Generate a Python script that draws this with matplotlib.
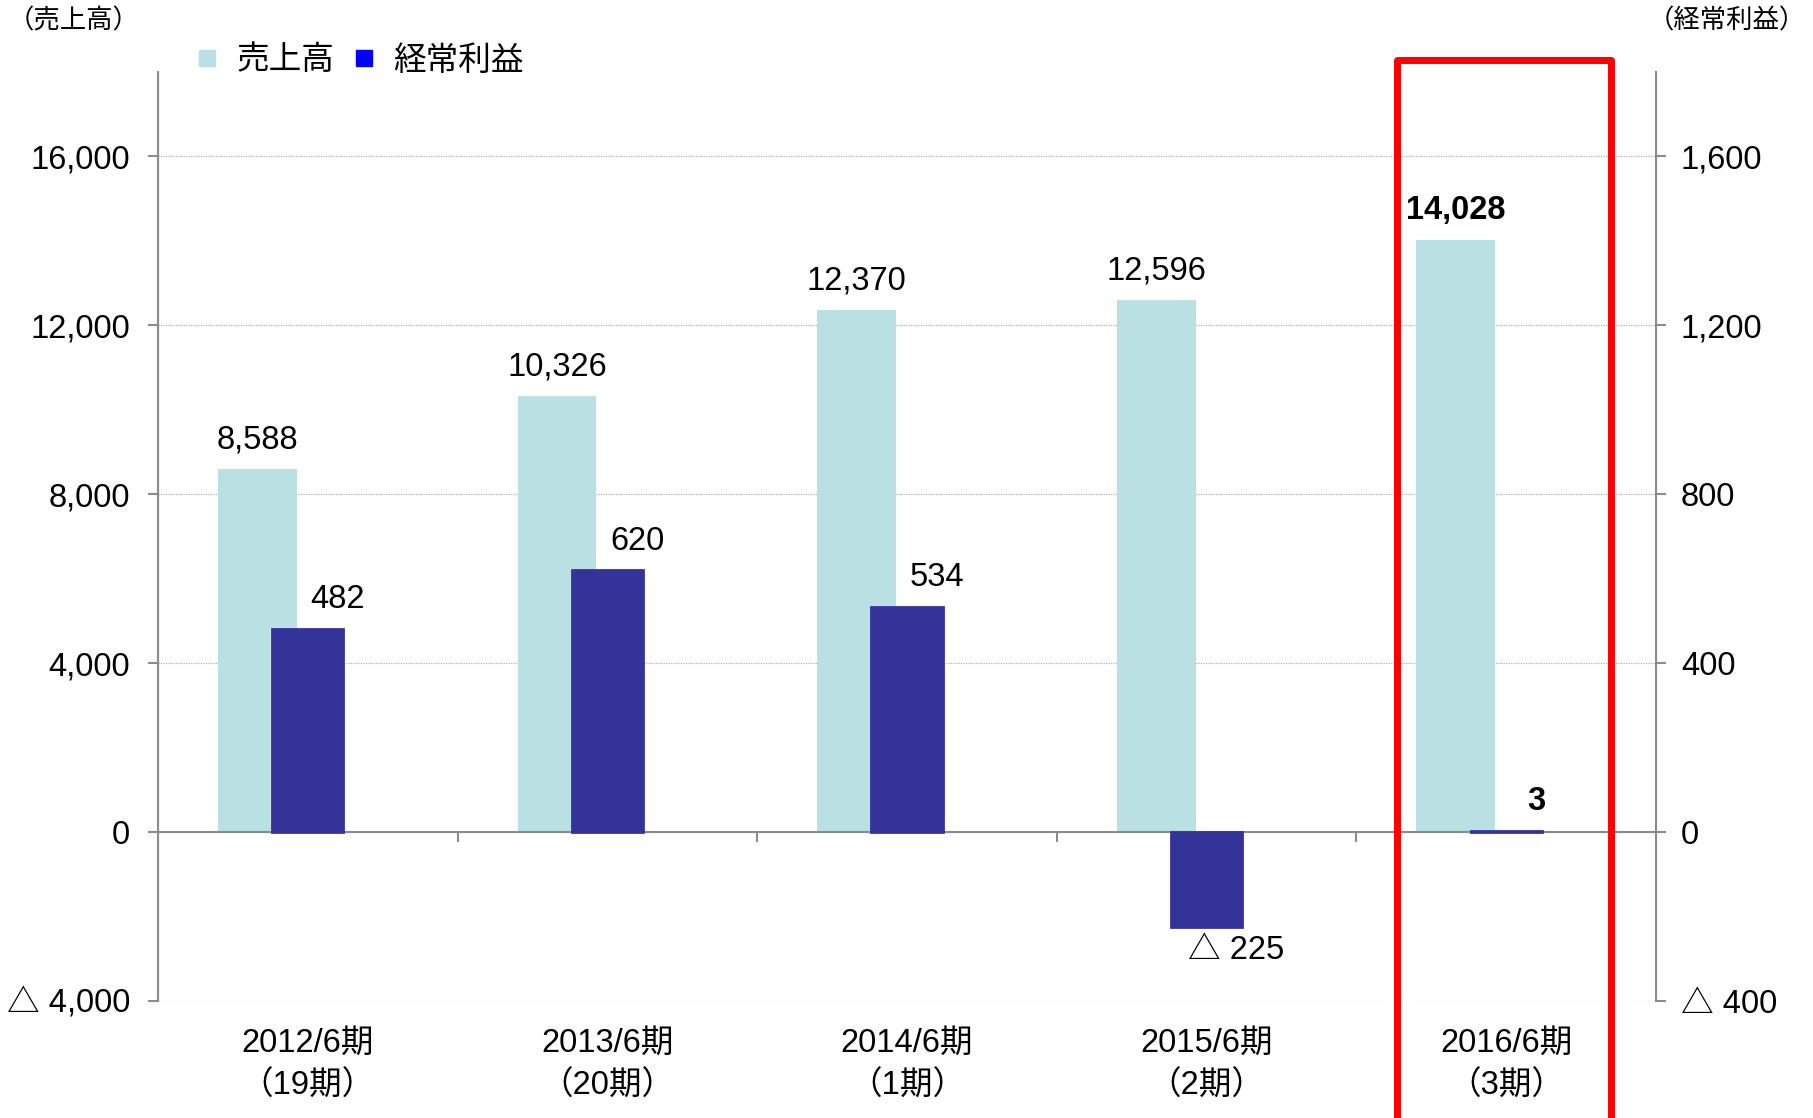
import numpy as np
import matplotlib
matplotlib.use("Agg")
import matplotlib.pyplot as plt
import matplotlib.transforms as mtransforms
from matplotlib.patches import Rectangle
from matplotlib.lines import Line2D

plt.rcParams['font.family'] = ['Liberation Sans', 'Noto Sans CJK JP']

# data
periods = ['2012/6期\n（19期）', '2013/6期\n（20期）', '2014/6期\n（1期）',
           '2015/6期\n（2期）', '2016/6期\n（3期）']
sales = [8588, 10326, 12370, 12596, 14028]
profit = [482, 620, 534, -225, 3]
sales_labels = ['8,588', '10,326', '12,370', '12,596', '14,028']
profit_labels = ['482', '620', '534', '△ 225', '3']
left_ticks = [-4000, 0, 4000, 8000, 12000, 16000]
left_ticklabels = ['△ 4,000', '0', '4,000', '8,000', '12,000', '16,000']
right_ticks = [-400, 0, 400, 800, 1200, 1600]
right_ticklabels = ['△ 400', '0', '400', '800', '1,200', '1,600']

c_sales = '#B9E0E2'
c_profit = '#333399'
gray = '#8C8C8C'
fs = 23.5

fig = plt.figure(figsize=(18.13, 11.18), dpi=100)
ax = fig.add_axes([0.0871, 0.1047, 0.8263, 0.8309])
ax2 = ax.twinx()

x = np.arange(len(periods))
ax.set_xlim(-0.5, 4.5)
ax.set_ylim(-4000, 18000)
ax2.set_ylim(-400, 1800)

ax.bar(x - 0.168, sales, width=0.263, color=c_sales, zorder=2)
ax2.bar(x, profit, width=0.238, color=c_profit, edgecolor=c_profit,
        linewidth=2, zorder=3)

# grid / spines
ax.set_yticks(left_ticks)
ax.set_yticklabels(left_ticklabels, fontsize=fs)
ax.yaxis.grid(True, linestyle=(0, (1, 1)), color='#B0B0B0', linewidth=0.9)
ax.set_axisbelow(True)
ax2.set_yticks(right_ticks)
ax2.set_yticklabels(right_ticklabels, fontsize=fs)

for a in (ax, ax2):
    a.spines['top'].set_visible(False)
    a.spines['left'].set_color(gray)
    a.spines['right'].set_color(gray)
    a.spines['bottom'].set_visible(False)
ax.spines['bottom'].set_visible(True)
ax.spines['bottom'].set_position(('data', 0))
ax.spines['bottom'].set_color(gray)
ax.spines['bottom'].set_linewidth(1.5)
ax.spines['bottom'].set_zorder(4)
ax.spines['left'].set_linewidth(1.5)
ax2.spines['right'].set_linewidth(1.5)

ax.set_xticks([0.5, 1.5, 2.5, 3.5])
ax.set_xticklabels([])
ax.tick_params(axis='x', direction='out', length=7, color=gray, width=1.5)
ax.tick_params(axis='y', direction='out', length=7, color=gray, width=1.5, pad=13)
ax2.tick_params(axis='y', direction='out', length=7, color=gray, width=1.5, pad=11)

# category labels
trans = mtransforms.blended_transform_factory(ax.transData, ax.transAxes)
for i, lab in enumerate(periods):
    ax.text(i, -0.069, lab, transform=trans, ha='center', va='center',
            fontsize=fs, linespacing=1.5)

# value labels
for i in range(len(periods)):
    bold = 'bold' if i == len(periods) - 1 else 'normal'
    ax.annotate(sales_labels[i], (x[i] - 0.168, sales[i]), xytext=(0, 21),
                textcoords='offset points', ha='center', va='center',
                fontsize=fs, fontweight=bold)
    off = 21 if profit[i] >= 0 else -17
    ax2.annotate(profit_labels[i], (x[i] + 0.1, profit[i]), xytext=(0, off),
                 textcoords='offset points', ha='center', va='center',
                 fontsize=fs, fontweight=bold)

# legend
handles = [Line2D([], [], marker='s', color=c_sales, linestyle='none', markersize=12),
           Line2D([], [], marker='s', color='#0000FF', linestyle='none', markersize=12)]
fig.legend(handles, ['売上高', '経常利益'], loc='center left',
           bbox_to_anchor=(0.107, 1 - 61 / 1118), frameon=False, ncol=2,
           fontsize=fs, handlelength=0.8, handletextpad=0.5, columnspacing=0.5,
           borderpad=0, borderaxespad=0)

# axis unit headers
fig.text(0.004, 1 - 21 / 1118, '（売上高）', fontsize=19, ha='left', va='center')
fig.text(0.996, 1 - 21 / 1118, '（経常利益）', fontsize=19, ha='right', va='center')

# highlight box
btrans = mtransforms.blended_transform_factory(ax.transData, fig.transFigure)
box = Rectangle((4 - 0.364, -0.05), 0.715, 0.946 + 0.05, transform=btrans,
                fill=False, edgecolor='#FF0000', linewidth=5, clip_on=False,
                zorder=10, joinstyle='round')
fig.add_artist(box)

fig.savefig('out.png', dpi=100)
